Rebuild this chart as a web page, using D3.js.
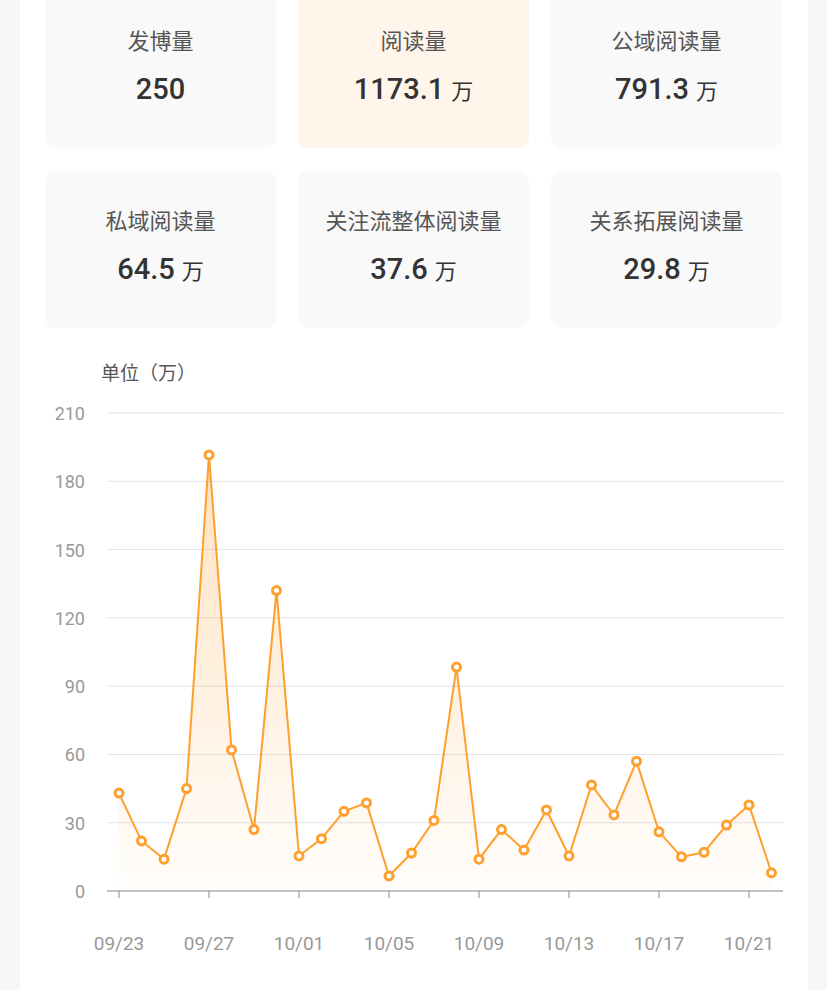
<!DOCTYPE html>
<html><head><meta charset="utf-8">
<script src="https://cdn.jsdelivr.net/npm/d3@7"></script>
<style>body{margin:0;background:#f7f7f7;font-family:"Noto Sans CJK SC","Noto Sans",sans-serif}</style>
</head><body><svg id="c" width="827" height="990"></svg>
<script>
const cardTitles=["发博量","阅读量","公域阅读量","私域阅读量","关注流整体阅读量","关系拓展阅读量"];
const cardValues=["250","1173.1","791.3","64.5","37.6","29.8"];
const cardUnits=["","万","万","万","万","万"];
const dates=["09/23","09/24","09/25","09/26","09/27","09/28","09/29","09/30","10/01","10/02","10/03","10/04","10/05","10/06","10/07","10/08","10/09","10/10","10/11","10/12","10/13","10/14","10/15","10/16","10/17","10/18","10/19","10/20","10/21","10/22"];
const values=[43,22,14,45,191.6,62,27,132,15.4,23,35,38.7,6.6,16.7,31,98.4,14,27,18,35.6,15.4,46.6,33.4,57,26,15,17,29,37.8,8];
const yTicks=[0,30,60,90,120,150,180,210];
const xTickLabels=["09/23","09/27","10/01","10/05","10/09","10/13","10/17","10/21"];

const svg=d3.select("#c");
svg.append("rect").attr("x",20).attr("y",0).attr("width",788).attr("height",990).attr("fill","#fff");
const cw=231,ch=157,xs=[45,298,551],ys=[-9,171];
cardTitles.forEach((t,i)=>{
  const x=xs[i%3],y=ys[Math.floor(i/3)];
  svg.append("rect").attr("x",x).attr("y",y).attr("width",cw).attr("height",ch).attr("rx",10)
    .attr("fill",i===1?"#fff5ea":"#f9f9f9");
  svg.append("text").attr("x",x+cw/2).attr("y",y+58).attr("text-anchor","middle")
    .attr("font-size",22).attr("fill","#555").text(t);
  const tx=svg.append("text").attr("x",x+cw/2).attr("y",y+108).attr("text-anchor","middle").attr("fill","#333");
  tx.append("tspan").attr("font-size",29).attr("font-weight",500).attr("font-family","Roboto, sans-serif").text(cardValues[i]);
  if(cardUnits[i]) tx.append("tspan").attr("font-size",22).attr("dx",7).text(cardUnits[i]);
});

const x=d3.scaleLinear().domain([0,dates.length-1]).range([119,771.5]);
const y=d3.scaleLinear().domain([0,210]).range([891,413]);
svg.append("text").attr("x",101).attr("y",380).attr("font-size",19).attr("fill","#555").text("单位（万）");
yTicks.forEach(v=>{
  if(v>0) svg.append("line").attr("x1",107).attr("x2",783).attr("y1",y(v)).attr("y2",y(v)).attr("stroke","#dde3ee");
  svg.append("text").attr("x",85).attr("y",y(v)+7).attr("text-anchor","end").attr("font-size",18).attr("fill","#999").attr("font-family","Roboto, sans-serif").text(v);
});
svg.append("line").attr("x1",107).attr("x2",783).attr("y1",y(0)).attr("y2",y(0)).attr("stroke","#888");
xTickLabels.forEach(l=>{
  const i=dates.indexOf(l);
  svg.append("line").attr("x1",x(i)).attr("x2",x(i)).attr("y1",891).attr("y2",898).attr("stroke","#888");
  svg.append("text").attr("x",x(i)).attr("y",950).attr("text-anchor","middle").attr("font-size",19).attr("fill","#999").attr("font-family","Roboto, sans-serif").text(l);
});
const g=svg.append("defs").append("linearGradient").attr("id","gr").attr("x1",0).attr("y1",0).attr("x2",0).attr("y2",1);
g.append("stop").attr("offset","0%").attr("stop-color","#ffa033").attr("stop-opacity",0.3);
g.append("stop").attr("offset","100%").attr("stop-color","#ffa033").attr("stop-opacity",0.02);
svg.append("path").datum(values).attr("fill","url(#gr)")
  .attr("d",d3.area().x((d,i)=>x(i)).y0(y(0)).y1(d=>y(d)));
svg.append("path").datum(values).attr("fill","none").attr("stroke","#ff9f2e").attr("stroke-width",2)
  .attr("d",d3.line().x((d,i)=>x(i)).y(d=>y(d)));
svg.selectAll("circle").data(values).enter().append("circle")
  .attr("cx",(d,i)=>x(i)).attr("cy",d=>y(d)).attr("r",4)
  .attr("fill","#fff").attr("stroke","#ff9f2e").attr("stroke-width",3);
</script></body></html>
